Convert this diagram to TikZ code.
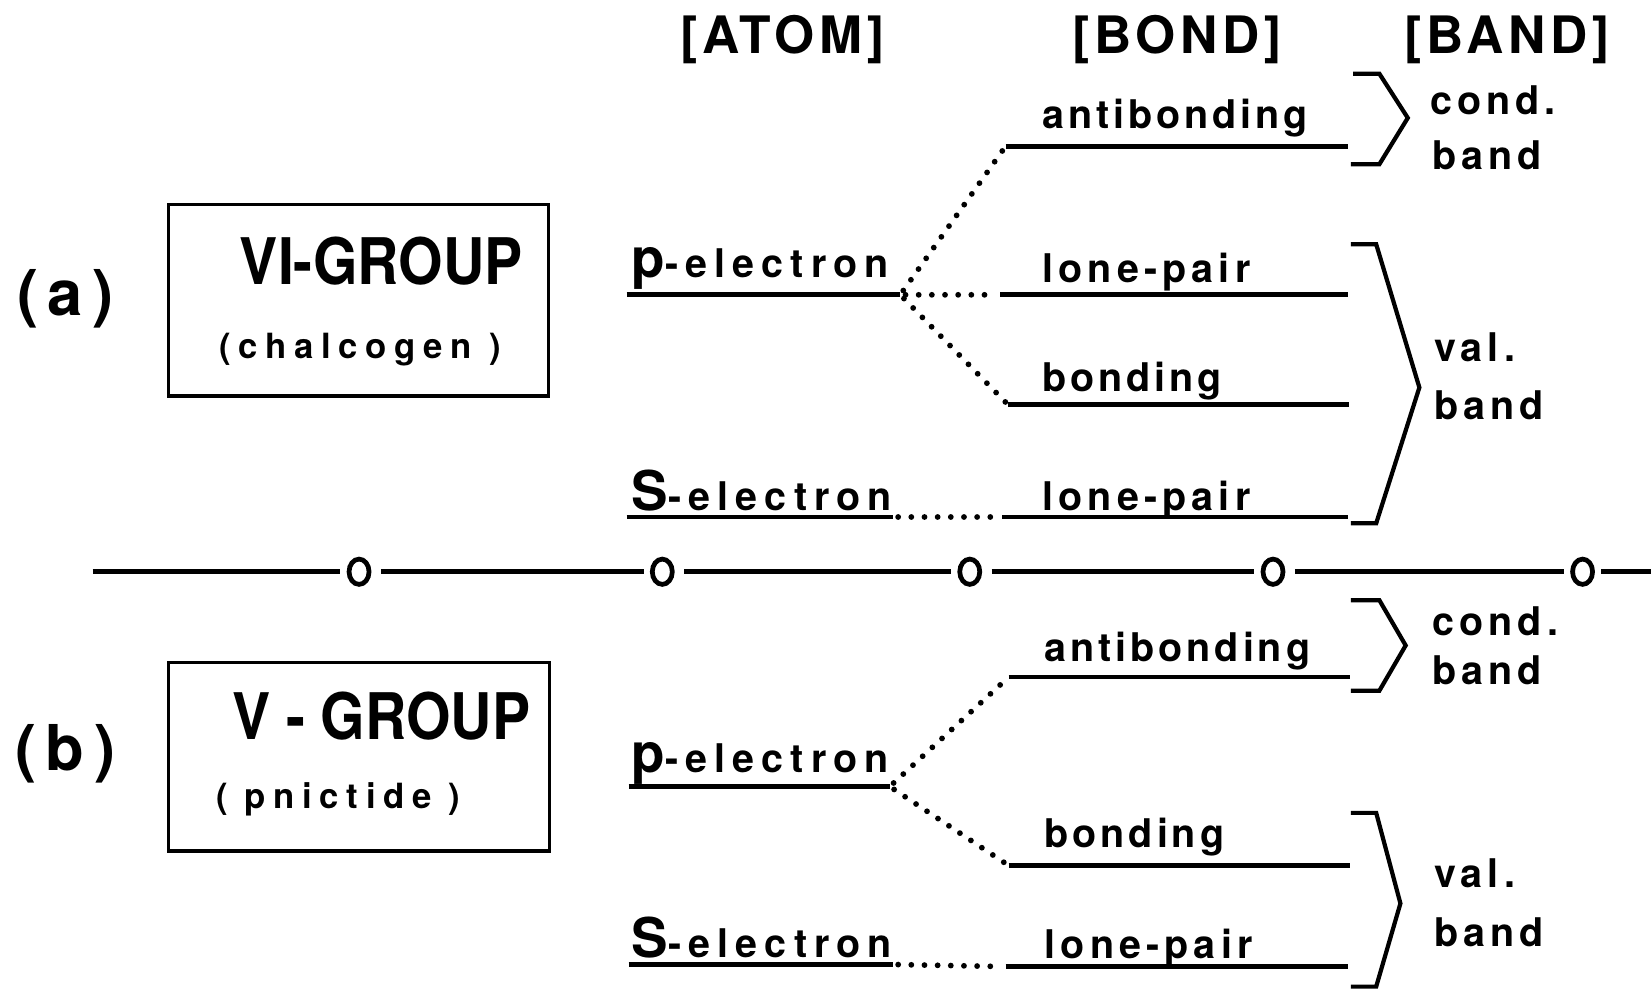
\documentclass[tikz,border=0pt]{standalone}
\usepackage{fontspec}
\setmainfont{TeX Gyre Heros}
% spaced sans families for the various labels
\newfontfamily\hvs[LetterSpace=13]{TeX Gyre Heros}
\newfontfamily\hvh[LetterSpace=9]{TeX Gyre Heros}
\newfontfamily\hvp[LetterSpace=15]{TeX Gyre Heros}
\newfontfamily\hvb[LetterSpace=22]{TeX Gyre Heros}
\newfontfamily\hvc[FakeStretch=0.89]{TeX Gyre Heros}
\usetikzlibrary{shapes.geometric}
\newcommand\lblfont{\hvs\bfseries\fontsize{37.5}{40}\selectfont}
\newcommand\hdfont{\hvh\bfseries\fontsize{49}{52}\selectfont}
\newcommand\tagfont{\hvp\bfseries\fontsize{60}{64}\selectfont}
\newcommand\grpfont{\hvc\bfseries\fontsize{61}{64}\selectfont}
\newcommand\subfont{\hvb\bfseries\fontsize{33}{36}\selectfont}
\newcommand\orb[2]{{\fontsize{52}{54}\selectfont #1}\addfontfeatures{LetterSpace=18}#2}
\newcommand\tight[1]{{\addfontfeatures{LetterSpace=10}#1}}
\begin{document}
\begin{tikzpicture}[x=1pt,y=-1pt,
  lvl/.style={line width=4.5pt},
  dots/.style={line width=5.5pt, line cap=round, dash pattern=on 0pt off 12.5pt,
    shorten <=5pt, shorten >=3pt},
  lbl/.style={inner sep=0pt, anchor=base west, font=\lblfont},
  hdr/.style={inner sep=0pt, anchor=base, font=\hdfont},
  tag/.style={inner sep=0pt, font=\tagfont},
  grp/.style={inner sep=0pt, anchor=base, font=\grpfont},
  sub/.style={inner sep=0pt, anchor=base west, font=\subfont},
  elbox/.style={draw, line width=3.3pt},
  brk/.style={line width=4pt, line join=miter},
  sep/.style={line width=4.5pt},
  ring/.style={draw, ellipse, line width=4.5pt, minimum width=19pt, minimum height=24pt, inner sep=0pt}]
\useasboundingbox (0,0) rectangle (1568,939);

% column headings
\node[hdr] (hatom) at (743,51) {[ATOM]};
\node[hdr] (hbond) at (1118,51) {[BOND]};
\node[hdr] (hband) at (1431,51) {[BAND]};

% ---------------- panel (a) ----------------
\node[tag] (taga) at (62,284) {(a)};
\draw[elbox] (160,194) rectangle (521,376);
\node[grp] (grpa) at (362,270) {VI-GROUP};
\node[sub] (suba) at (208,340) {(chalcogen )};

\coordinate (pa-l) at (595,280);   \coordinate (pa-r) at (855,280);
\coordinate (sa-l) at (595,491);   \coordinate (sa-r) at (848,491);
\coordinate (aa-l) at (955,139);   \coordinate (aa-r) at (1280,139);
\coordinate (la-l) at (950,280);   \coordinate (la-r) at (1280,280);
\coordinate (ba-l) at (957,384);   \coordinate (ba-r) at (1281,384);
\coordinate (ma-l) at (952,491);   \coordinate (ma-r) at (1280,491);

\draw[lvl] (pa-l) -- (pa-r);
\draw[lvl] (sa-l) -- (sa-r);
\draw[lvl] (aa-l) -- (aa-r);
\draw[lvl] (la-l) -- (la-r);
\draw[lvl] (ba-l) -- (ba-r);
\draw[lvl] (ma-l) -- (ma-r);

\node[lbl] (pela) at (600,264) {\orb{p}{-electron}};
\node[lbl] (sela) at (600,485) {\orb{S}{-electron}};
\node[lbl] (antia) at (990,122) {\tight{antibonding}};
\node[lbl] (lpa) at (990,268) {lone-pair};
\node[lbl] (bnda) at (990,372) {\tight{bonding}};
\node[lbl] (lpb) at (990,485) {lone-pair};

\draw[dots] (pa-r) -- (aa-l);
\draw[dots] (pa-r) -- (la-l);
\draw[dots] (pa-r) -- (ba-l);
\draw[dots] (sa-r) -- (ma-l);

\coordinate (ca1) at (1285,70);  \coordinate (ca2) at (1310,70);
\coordinate (ca3) at (1337,112); \coordinate (ca4) at (1310,156);
\coordinate (ca5) at (1283,156);
\draw[brk] (ca1) -- (ca2) -- (ca3) -- (ca4) -- (ca5);
\coordinate (va1) at (1283,232);  \coordinate (va2) at (1307,232);
\coordinate (va3) at (1348,368);  \coordinate (va4) at (1307,497);
\coordinate (va5) at (1283,497);
\draw[brk] (va1) -- (va2) -- (va3) -- (va4) -- (va5);

\node[lbl] (conda) at (1358,109) {cond.};
\node[lbl] (cbanda) at (1360,161) {band};
\node[lbl] (vala) at (1362,343) {val.};
\node[lbl] (vbanda) at (1362,398) {band};

% ---------------- divider ----------------
\coordinate (sepL) at (88,543);
\coordinate (sepR) at (1568,543);
\node[ring] (r1) at (341,543) {};
\node[ring] (r2) at (629,543) {};
\node[ring] (r3) at (921,543) {};
\node[ring] (r4) at (1209,543) {};
\node[ring] (r5) at (1503,543) {};
\draw[sep, shorten >=6pt] (sepL) -- (r1);
\draw[sep, shorten <=9pt, shorten >=6pt] (r1) -- (r2);
\draw[sep, shorten <=9pt, shorten >=6pt] (r2) -- (r3);
\draw[sep, shorten <=9pt, shorten >=6pt] (r3) -- (r4);
\draw[sep, shorten <=9pt, shorten >=6pt] (r4) -- (r5);
\draw[sep, shorten <=6pt] (r5) -- (sepR);

% ---------------- panel (b) ----------------
\node[tag] (tagb) at (62,716) {(b)};
\draw[elbox] (160,629) rectangle (522,808);
\node[grp] (grpb) at (362,702) {V - GROUP};
\node[sub] (subb) at (205,768) {( pnictide )};

\coordinate (pb-l) at (597,747);   \coordinate (pb-r) at (845,747);
\coordinate (sb-l) at (597,916);   \coordinate (sb-r) at (848,916);
\coordinate (ab-l) at (958,643);   \coordinate (ab-r) at (1282,643);
\coordinate (bb-l) at (958,822);   \coordinate (bb-r) at (1282,822);
\coordinate (mb-l) at (955,918);   \coordinate (mb-r) at (1280,918);

\draw[lvl] (pb-l) -- (pb-r);
\draw[lvl] (sb-l) -- (sb-r);
\draw[lvl] (ab-l) -- (ab-r);
\draw[lvl] (bb-l) -- (bb-r);
\draw[lvl] (mb-l) -- (mb-r);

\node[lbl] (pelb) at (600,734) {\orb{p}{-electron}};
\node[lbl] (selb) at (600,909) {\orb{S}{-electron}};
\node[lbl] (antib) at (992,628) {\tight{antibonding}};
\node[lbl] (bndb) at (992,805) {\tight{bonding}};
\node[lbl] (lpc) at (992,910) {lone-pair};

\draw[dots] (pb-r) -- (ab-l);
\draw[dots] (pb-r) -- (bb-l);
\draw[dots] (sb-r) -- (mb-l);

\coordinate (cb1) at (1283,570);  \coordinate (cb2) at (1310,570);
\coordinate (cb3) at (1335,613);  \coordinate (cb4) at (1310,656);
\coordinate (cb5) at (1283,656);
\draw[brk] (cb1) -- (cb2) -- (cb3) -- (cb4) -- (cb5);
\coordinate (vb1) at (1283,772);  \coordinate (vb2) at (1307,772);
\coordinate (vb3) at (1330,858);  \coordinate (vb4) at (1307,937);
\coordinate (vb5) at (1283,937);
\draw[brk] (vb1) -- (vb2) -- (vb3) -- (vb4) -- (vb5);

\node[lbl] (condb) at (1360,604) {cond.};
\node[lbl] (cbandb) at (1360,650) {band};
\node[lbl] (valb) at (1362,843) {val.};
\node[lbl] (vbandb) at (1362,899) {band};
\end{tikzpicture}
\end{document}
